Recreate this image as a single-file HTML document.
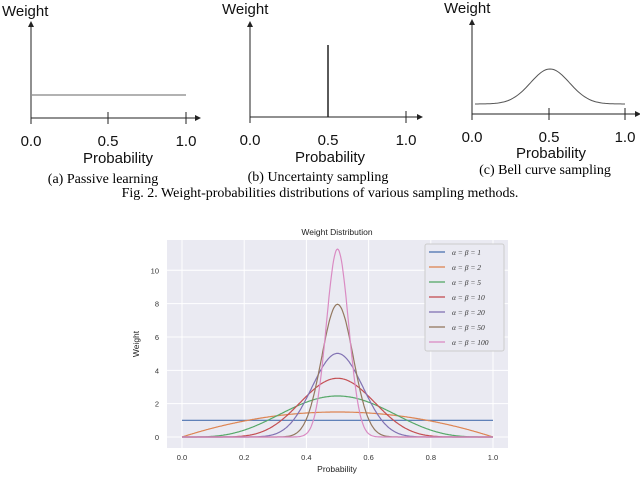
<!DOCTYPE html>
<html><head><meta charset="utf-8"><style>
body{margin:0;background:#fff;width:640px;height:485px;overflow:hidden}
svg{display:block}
.s{font-family:"Liberation Sans",sans-serif}
.r{font-family:"Liberation Serif",serif}
</style></head><body>
<svg id="fig" width="640" height="485" viewBox="0 0 640 485">
<defs><marker id="ar" markerWidth="6" markerHeight="6" refX="5" refY="3" orient="auto"><path d="M0,0L6,3L0,6z" fill="#222"/></marker></defs>
<g stroke="#222" stroke-width="1">
<line x1="31" y1="118" x2="31" y2="22" marker-end="url(#ar)"/>
<line x1="31" y1="118" x2="200" y2="118" marker-end="url(#ar)"/>
<line x1="31" y1="112" x2="31" y2="124"/><line x1="108" y1="112" x2="108" y2="124"/><line x1="186" y1="112" x2="186" y2="124"/>
<line x1="32" y1="95" x2="186" y2="95" stroke="#666"/>
</g>
<g class="s" font-size="15" fill="#111">
<text x="2" y="16">Weight</text>
<text x="31" y="146" text-anchor="middle">0.0</text><text x="108" y="146" text-anchor="middle">0.5</text><text x="186" y="146" text-anchor="middle">1.0</text>
<text x="118" y="163" text-anchor="middle">Probability</text>
</g>
<text class="r" x="103" y="183" font-size="14" text-anchor="middle">(a) Passive learning</text>

<g stroke="#222" stroke-width="1">
<line x1="250" y1="117" x2="250" y2="22" marker-end="url(#ar)"/>
<line x1="250" y1="117" x2="422" y2="117" marker-end="url(#ar)"/>
<line x1="250" y1="111" x2="250" y2="123"/><line x1="406" y1="111" x2="406" y2="123"/>
<line x1="328" y1="45" x2="328" y2="117" stroke-width="1.5"/>
</g>
<g class="s" font-size="15" fill="#111">
<text x="222" y="14">Weight</text>
<text x="250" y="145" text-anchor="middle">0.0</text><text x="328" y="145" text-anchor="middle">0.5</text><text x="406" y="145" text-anchor="middle">1.0</text>
<text x="330" y="162" text-anchor="middle">Probability</text>
</g>
<text class="r" x="318" y="181" font-size="14" text-anchor="middle">(b) Uncertainty sampling</text>

<g stroke="#222" stroke-width="1" fill="none">
<line x1="472" y1="114" x2="472" y2="20" marker-end="url(#ar)"/>
<line x1="472" y1="114" x2="640" y2="114" marker-end="url(#ar)"/>
<line x1="472" y1="108" x2="472" y2="120"/><line x1="549" y1="108" x2="549" y2="120"/><line x1="625" y1="108" x2="625" y2="120"/>
<path id="bell" stroke="#555"/>
</g>
<g class="s" font-size="15" fill="#111">
<text x="444" y="13">Weight</text>
<text x="472" y="142" text-anchor="middle">0.0</text><text x="549" y="142" text-anchor="middle">0.5</text><text x="625" y="142" text-anchor="middle">1.0</text>
<text x="551" y="158" text-anchor="middle">Probability</text>
</g>
<text class="r" x="545" y="174" font-size="14" text-anchor="middle">(c) Bell curve sampling</text>
<text class="r" x="320" y="197" font-size="14" text-anchor="middle">Fig. 2. Weight-probabilities distributions of various sampling methods.</text>

<g id="chart">
<rect x="167" y="240" width="341" height="208" fill="#eaeaf2"/>
<g id="grid"></g><g id="lines"></g><g id="ticks" class="s" font-size="7.5" fill="#333"></g>
<text class="s" x="337" y="235" font-size="8.5" fill="#222" text-anchor="middle">Weight Distribution</text>
<text class="s" x="337" y="472" font-size="8.5" fill="#222" text-anchor="middle">Probability</text>
<text class="s" x="139" y="344" font-size="8.5" fill="#222" text-anchor="middle" transform="rotate(-90 139 344)">Weight</text>
<g id="legend"></g>
</g>
</svg>
<script>
const alphas=[1,2,5,10,20,50,100];
const colors=["#4c72b0","#dd8452","#55a868","#c44e52","#8172b3","#937860","#da8bc3"];
const xTicks=[0,0.2,0.4,0.6,0.8,1.0];
const yTicks=[0,2,4,6,8,10];
const NS="http://www.w3.org/2000/svg";
const X=v=>182+v*311, Y=v=>437-v*16.67;
function lgam(z){const c=[76.18009172947146,-86.50532032941677,24.01409824083091,-1.231739572450155,0.1208650973866179e-2,-0.5395239384953e-5];let x=z,y=z,t=x+5.5;t-=(x+0.5)*Math.log(t);let s=1.000000000190015;for(const q of c)s+=q/++y;return -t+Math.log(2.5066282746310005*s/x);}
function pdf(p,a){if(p<=0||p>=1)return a==1?1:0;return Math.exp(lgam(2*a)-2*lgam(a)+(a-1)*Math.log(p*(1-p)));}
function el(t,at,par){const e=document.createElementNS(NS,t);for(const k in at)e.setAttribute(k,at[k]);par.appendChild(e);return e;}
const g=document.getElementById('grid'),tk=document.getElementById('ticks');
xTicks.forEach(v=>{const l=el('line',{x1:X(v),x2:X(v),y1:240,y2:448,stroke:'#fff','stroke-width':1},g);

const t=el('text',{x:X(v),y:460,'text-anchor':'middle'},tk);t.textContent=v.toFixed(1);
});
yTicks.forEach(v=>{const l=el('line',{x1:167,x2:508,y1:Y(v),y2:Y(v),stroke:'#fff','stroke-width':1},g);

const t=el('text',{x:159,y:Y(v)+3,'text-anchor':'end'},tk);t.textContent=v;
});
const L=document.getElementById('lines'),lg=document.getElementById('legend');
el('rect',{x:425,y:244,width:79,height:107,fill:'#eaeaf2',stroke:'#ccc',rx:2},lg);
alphas.forEach((a,i)=>{let d='';for(let k=0;k<=400;k++){const p=k/400;d+=(k?'L':'M')+X(p).toFixed(1)+','+Y(pdf(p,a)).toFixed(1);}
const pth=el('path',{d,fill:'none',stroke:colors[i],'stroke-width':1.2},L);

const y=252+i*15;
const ln=el('line',{x1:429,x2:445,y1:y,y2:y,stroke:colors[i],'stroke-width':1.3},lg);

const t=el('text',{x:452,y:y+3,'font-size':7.5,fill:'#333','font-family':'Liberation Serif, serif','font-style':'italic'},lg);
t.textContent='α = β = '+a;});
let d='';for(let k=0;k<=100;k++){const p=k/100;d+=(k?'L':'M')+(475+p*150).toFixed(1)+','+(104-35*Math.exp(-Math.pow((p-0.5)/0.13,2)/2)).toFixed(1);}
document.getElementById('bell').setAttribute('d',d);
</script>
</body></html>
